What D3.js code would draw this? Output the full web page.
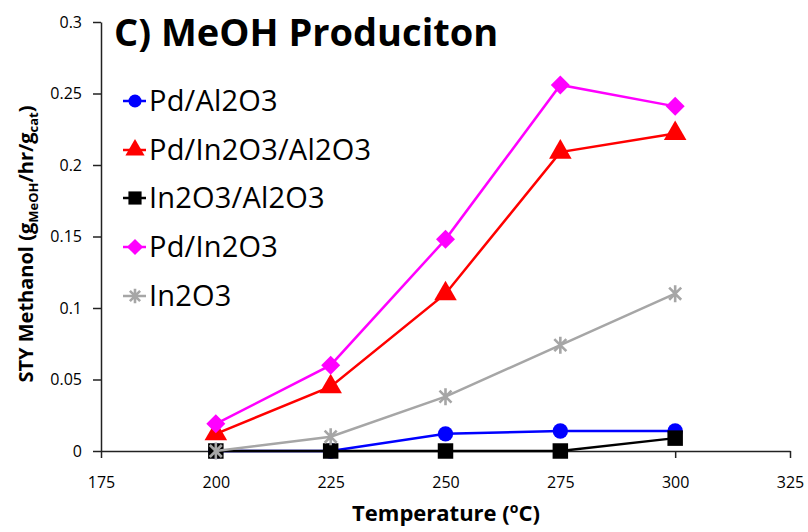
<!DOCTYPE html>
<html>
<head>
<meta charset="utf-8">
<script src="https://cdn.jsdelivr.net/npm/d3@7"></script>
<style>
  html, body { margin: 0; padding: 0; background: #fff; }
  svg { display: block; }
  text { font-family: "Open Sans", sans-serif; fill: #000; }
</style>
</head>
<body>
<svg id="chart" width="808" height="532"></svg>
<script>
// Temperatures (°C) at which each catalyst was measured
const temperatures = [200, 225, 250, 275, 300];

// Space-time yield of methanol, g_MeOH / hr / g_cat
const pdAl2O3      = [0, 0, 0.012, 0.014, 0.014];
const pdIn2O3Al2O3 = [0.012, 0.045, 0.110, 0.209, 0.222];
const in2O3Al2O3   = [0, 0, 0, 0, 0.009];
const pdIn2O3      = [0.019, 0.060, 0.148, 0.256, 0.241];
const in2O3        = [0, 0.010, 0.038, 0.074, 0.110];

const seriesNames  = ["Pd/Al2O3", "Pd/In2O3/Al2O3", "In2O3/Al2O3", "Pd/In2O3", "In2O3"];
const seriesValues = [pdAl2O3, pdIn2O3Al2O3, in2O3Al2O3, pdIn2O3, in2O3];
const seriesColors = ["#0000ff", "#ff0000", "#000000", "#ff00ff", "#a6a6a6"];
const seriesMarks  = ["circle", "triangle", "square", "diamond", "star"];

const xTicks = [175, 200, 225, 250, 275, 300, 325];
const yTicks = [0, 0.05, 0.1, 0.15, 0.2, 0.25, 0.3];

const svg = d3.select("#chart");
const x = d3.scaleLinear().domain([175, 325]).range([101, 790]);
const y = d3.scaleLinear().domain([0, 0.3]).range([451, 22]);

// Axes
const yAxis = svg.append("g").attr("transform", `translate(${x(175)},0)`)
  .call(d3.axisLeft(y).tickValues(yTicks).tickSize(8).tickSizeOuter(0)
    .tickFormat(d => String(+d.toFixed(2))));
const xAxis = svg.append("g").attr("transform", `translate(0,${y(0)})`)
  .call(d3.axisBottom(x).tickValues(xTicks).tickSize(7).tickSizeOuter(0).tickFormat(d3.format("d")));

[yAxis, xAxis].forEach(g => {
  g.select(".domain").attr("stroke", "#222").attr("stroke-width", 1.5);
  g.selectAll(".tick line").attr("stroke", "#222").attr("stroke-width", 1.5);
  g.selectAll(".tick text").attr("font-family", "'Open Sans', sans-serif")
    .attr("font-size", 16).attr("fill", "#000");
});
yAxis.selectAll(".tick text").attr("x", -19);
xAxis.selectAll(".tick text").attr("y", 26);

// Marker shapes, centred on the origin; k scales the default size
function markerPath(kind, k) {
  switch (kind) {
    case "circle":   return d3.symbol(d3.symbolCircle, 185 * k * k)();
    case "square":   return d3.symbol(d3.symbolSquare, 240 * k * k)();
    case "triangle": return d3.symbol(d3.symbolTriangle, 220 * k * k)();
    case "diamond": {
      const r = 9.5 * k;
      return `M0,${-r}L${r},0L0,${r}L${-r},0Z`;
    }
    case "star": {
      // asterisk: vertical bar plus two diagonals
      const r = 8.5 * k, d = r * Math.SQRT1_2;
      return `M0,${-r}L0,${r}M${-d},${-d}L${d},${d}M${-d},${d}L${d},${-d}`;
    }
  }
}

function drawMarker(g, kind, color, cx, cy, k) {
  const p = g.append("path").attr("d", markerPath(kind, k))
    .attr("transform", `translate(${cx},${cy})`);
  if (kind === "star") p.attr("fill", "none").attr("stroke", color).attr("stroke-width", 2.6);
  else p.attr("fill", color);
}

// Series lines and markers
const line = d3.line().x(d => x(d[0])).y(d => y(d[1]));
seriesValues.forEach((vals, i) => {
  const pts = temperatures.map((t, j) => [t, vals[j]]);
  const g = svg.append("g");
  g.append("path").attr("d", line(pts)).attr("fill", "none")
    .attr("stroke", seriesColors[i]).attr("stroke-width", 2.5);
  pts.forEach(p => drawMarker(g, seriesMarks[i], seriesColors[i], x(p[0]), y(p[1]), 1));
});

// Title
svg.append("text").attr("x", 114).attr("y", 46)
  .attr("font-size", 38).attr("font-weight", "bold").text("C) MeOH Produciton");

// Legend
const legendY = [101, 150, 198, 247, 296];
seriesNames.forEach((name, i) => {
  const g = svg.append("g");
  g.append("line").attr("x1", 123).attr("x2", 146).attr("y1", legendY[i]).attr("y2", legendY[i])
    .attr("stroke", seriesColors[i]).attr("stroke-width", 2.5);
  drawMarker(g, seriesMarks[i], seriesColors[i], 135, legendY[i], 0.85);
  g.append("text").attr("x", 149).attr("y", legendY[i] + 9.5)
    .attr("font-size", 29).attr("letter-spacing", 0.2).text(name);
});

// Axis titles
const yTitle = svg.append("text")
  .attr("transform", "translate(33,244) rotate(-90)")
  .attr("text-anchor", "middle").attr("font-size", 20).attr("font-weight", "bold");
yTitle.append("tspan").text("STY Methanol (g");
yTitle.append("tspan").attr("font-size", 13).attr("dy", 5).text("MeOH");
yTitle.append("tspan").attr("dy", -5).text("/hr/g");
yTitle.append("tspan").attr("font-size", 13).attr("dy", 5).text("cat");
yTitle.append("tspan").attr("dy", -5).text(")");

const xTitle = svg.append("text").attr("x", 446).attr("y", 521)
  .attr("text-anchor", "middle").attr("font-size", 22).attr("font-weight", "bold");
xTitle.append("tspan").text("Temperature (");
xTitle.append("tspan").attr("font-size", 14).attr("dy", -8).text("o");
xTitle.append("tspan").attr("dy", 8).text("C)");
</script>
</body>
</html>
